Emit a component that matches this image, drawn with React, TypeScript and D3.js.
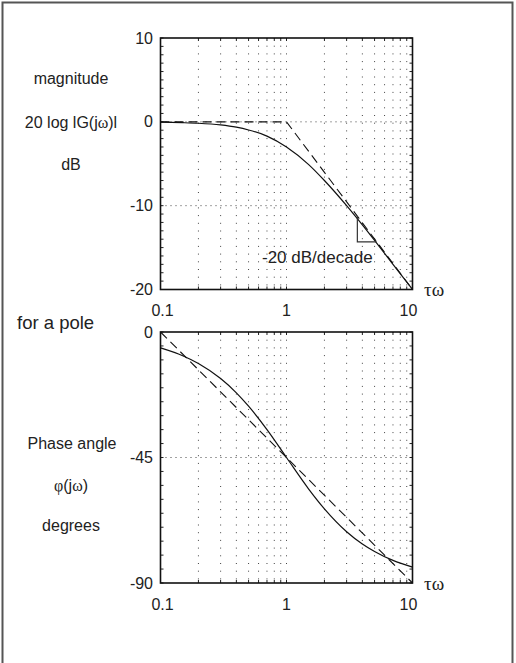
import React from 'react';
import { scaleLog, scaleLinear, line, curveMonotoneX } from 'd3';

// frequency axis (tau * omega)
const xTicks = [0.1, 1, 10];
const xMinor = [0.2, 0.3, 0.4, 0.5, 0.6, 0.7, 0.8, 0.9, 1, 2, 3, 4, 5, 6, 7, 8, 9];

// magnitude plot
const magTicks = [10, 0, -10, -20];
const magGrid = [0, -10];
const magW = [0.1, 0.15, 0.2, 0.3, 0.4, 0.5, 0.7, 1, 1.5, 2, 3, 4, 5, 7, 10];
const magDb = [-0.04, -0.1, -0.17, -0.37, -0.64, -0.97, -1.7, -3.0, -5.1, -7.0, -10.0, -12.3, -14.15, -17.0, -20.0];
const magAsymW = [0.1, 1, 10];
const magAsymDb = [0, 0, -20];
const slopeTri = [3.65, 5.2];

// phase plot
const phaseTicks = [0, -45, -90];
const phaseGrid = [-45];
const phaseW = [0.1, 0.15, 0.2, 0.3, 0.4, 0.5, 0.7, 1, 1.5, 2, 3, 4, 5, 7, 10];
const phaseDeg = [-5.7, -8.5, -11.3, -16.7, -21.8, -26.6, -35, -45, -56.3, -63.4, -71.6, -76, -78.7, -81.9, -84.3];
const phaseAsymW = [0.1, 10];
const phaseAsymDeg = [0, -90];

const W = 516;
const H = 663;
const left = 160.5;
const right = 412.5;
const font = 'Liberation Sans, Arial, Helvetica, sans-serif';
const serif = 'Liberation Serif, Times New Roman, serif';

const x = scaleLog().domain([0.1, 10]).range([left, right]);

const Panel = ({ top, bottom, domain, ticks, grid, minorStep, curveW, curveV, asymW, asymV, children }) => {
  const y = scaleLinear().domain(domain).range([bottom, top]);
  const ln = line().x(d => x(d[0])).y(d => y(d[1]));
  const solid = line().curve(curveMonotoneX).x(d => x(d[0])).y(d => y(d[1]));
  const minorY = [];
  for (let v = domain[0]; v <= domain[1] + 1e-9; v += minorStep) minorY.push(v);
  return (
    <g>
      {xMinor.map(v => (
        <line key={'vx' + v} x1={x(v)} x2={x(v)} y1={top} y2={bottom}
          stroke="#444" strokeWidth={1} strokeDasharray="1,6.7" />
      ))}
      {grid.map(v => (
        <line key={'hg' + v} x1={left} x2={right} y1={y(v)} y2={y(v)}
          stroke="#444" strokeWidth={1} strokeDasharray="1,4" />
      ))}
      {xMinor.map(v => (
        <g key={'tx' + v} stroke="#222" strokeWidth={1}>
          <line x1={x(v)} x2={x(v)} y1={top} y2={top + 3} />
          <line x1={x(v)} x2={x(v)} y1={bottom} y2={bottom - 3} />
        </g>
      ))}
      {minorY.map(v => (
        <g key={'ty' + v} stroke="#222" strokeWidth={1}>
          <line x1={left} x2={left + 3} y1={y(v)} y2={y(v)} />
          <line x1={right} x2={right - 3} y1={y(v)} y2={y(v)} />
        </g>
      ))}
      <rect x={left} y={top} width={right - left} height={bottom - top}
        fill="none" stroke="#111" strokeWidth={1.6} />
      <path d={ln(asymW.map((w, i) => [w, asymV[i]]))} fill="none" stroke="#111"
        strokeWidth={1.1} strokeDasharray="9,5" />
      <path d={solid(curveW.map((w, i) => [w, curveV[i]]))} fill="none" stroke="#111" strokeWidth={1.2} />
      {ticks.map(v => (
        <text key={'yl' + v} x={153} y={y(v)} textAnchor="end" dominantBaseline="central"
          fontFamily={font} fontSize={16} fill="#222">{v}</text>
      ))}
      {xTicks.map(v => (
        <text key={'xl' + v} x={x(v) + (v === 10 ? -4 : v === 0.1 ? 2 : 0)} y={bottom + 21}
          textAnchor="middle" dominantBaseline="central"
          fontFamily={font} fontSize={16} fill="#222">{v}</text>
      ))}
      <text x={424} y={bottom} dominantBaseline="central" fontFamily={serif} fontSize={19} fill="#222">τω</text>
      {children && children(y)}
    </g>
  );
};

export default function App() {
  return (
    <svg width={W} height={H} style={{ position: 'absolute', left: 0, top: 0, background: '#fff' }}>
      <rect x={2.5} y={2.5} width={510} height={700} fill="none" stroke="#555" strokeWidth={2} />

      <g fontFamily={font} fontSize={16} fill="#222" textAnchor="middle" dominantBaseline="central">
        <text x={71} y={78}>magnitude</text>
        <text x={71} y={122}>20 log lG(j<tspan fontFamily={serif}>ω</tspan>)l</text>
        <text x={71} y={164}>dB</text>
        <text x={72} y={443}>Phase angle</text>
        <text x={71} y={485}><tspan fontFamily={serif}>φ</tspan>(j<tspan fontFamily={serif}>ω</tspan>)</text>
        <text x={71} y={525}>degrees</text>
      </g>
      <text x={17} y={322} dominantBaseline="central" fontFamily={font} fontSize={18.5} fill="#222">for a pole</text>

      <Panel top={38} bottom={289.5} domain={[-20, 10]} ticks={magTicks} grid={magGrid} minorStep={1}
        curveW={magW} curveV={magDb} asymW={magAsymW} asymV={magAsymDb}>
        {y => (
          <g>
            <path
              d={`M${x(slopeTri[0])},${y(-20 * Math.log10(slopeTri[0]))}V${y(-20 * Math.log10(slopeTri[1]))}H${x(slopeTri[1])}`}
              fill="none" stroke="#333" strokeWidth={1.2} />
            <text x={262} y={257} dominantBaseline="central" fontFamily={font} fontSize={17} fill="#222">-20 dB/decade</text>
          </g>
        )}
      </Panel>

      <Panel top={332} bottom={583} domain={[-90, 0]} ticks={phaseTicks} grid={phaseGrid} minorStep={5}
        curveW={phaseW} curveV={phaseDeg} asymW={phaseAsymW} asymV={phaseAsymDeg} />
    </svg>
  );
}
